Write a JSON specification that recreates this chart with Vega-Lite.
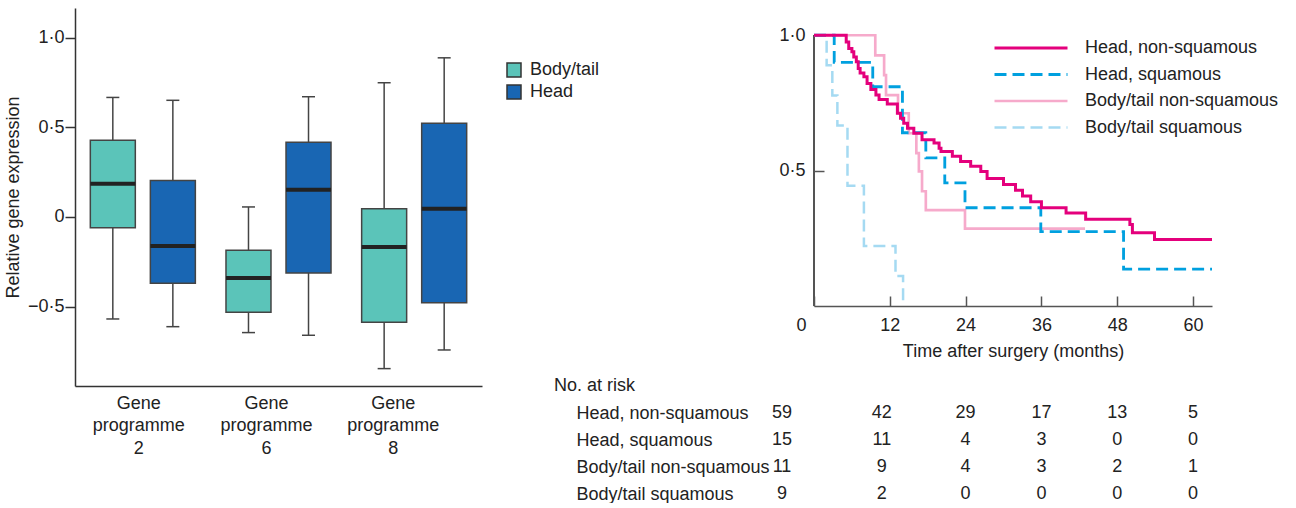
{
  "$schema": "https://vega.github.io/schema/vega-lite/v6.json",
  "padding": {"left": 4, "top": 8, "right": 0, "bottom": 0},
  "spacing": 72,
  "config": {
    "font": "Liberation Sans",
    "view": {"stroke": null},
    "axis": {"grid": false, "labelFontSize": 18, "titleFontSize": 18, "titleFontWeight": "normal", "labelColor": "#222", "titleColor": "#222", "labelFont": "Liberation Sans", "titleFont": "Liberation Sans"},
    "legend": {"labelFontSize": 18, "labelColor": "#222", "labelFont": "Liberation Sans", "labelLimit": 400, "padding": 0},
    "title": {"fontSize": 18, "fontWeight": "normal", "color": "#222", "font": "Liberation Sans"}
  },
  "datasets": {
    "boxes": [
      {"prog": "Gene programme 2", "region": "Body/tail", "lo": -0.569, "q1": -0.06, "med": 0.186, "q3": 0.428, "hi": 0.667},
      {"prog": "Gene programme 2", "region": "Head", "lo": -0.612, "q1": -0.37, "med": -0.162, "q3": 0.203, "hi": 0.651},
      {"prog": "Gene programme 6", "region": "Body/tail", "lo": -0.645, "q1": -0.532, "med": -0.34, "q3": -0.186, "hi": 0.056},
      {"prog": "Gene programme 6", "region": "Head", "lo": -0.66, "q1": -0.312, "med": 0.152, "q3": 0.417, "hi": 0.671},
      {"prog": "Gene programme 8", "region": "Body/tail", "lo": -0.846, "q1": -0.587, "med": -0.167, "q3": 0.046, "hi": 0.749},
      {"prog": "Gene programme 8", "region": "Head", "lo": -0.742, "q1": -0.478, "med": 0.046, "q3": 0.523, "hi": 0.888}
    ],
    "km": [
      {"series": "Body/tail squamous", "t": 0, "s": 1},
      {"series": "Body/tail squamous", "t": 2.0, "s": 0.889},
      {"series": "Body/tail squamous", "t": 2.9, "s": 0.778},
      {"series": "Body/tail squamous", "t": 3.7, "s": 0.667},
      {"series": "Body/tail squamous", "t": 5.3, "s": 0.444},
      {"series": "Body/tail squamous", "t": 7.9, "s": 0.222},
      {"series": "Body/tail squamous", "t": 12.9, "s": 0.111},
      {"series": "Body/tail squamous", "t": 14.1, "s": 0},
      {"series": "Body/tail non-squamous", "t": 0, "s": 1},
      {"series": "Body/tail non-squamous", "t": 9.7, "s": 0.926},
      {"series": "Body/tail non-squamous", "t": 11.1, "s": 0.853},
      {"series": "Body/tail non-squamous", "t": 11.4, "s": 0.779},
      {"series": "Body/tail non-squamous", "t": 13.3, "s": 0.712},
      {"series": "Body/tail non-squamous", "t": 15.0, "s": 0.638},
      {"series": "Body/tail non-squamous", "t": 16.2, "s": 0.565},
      {"series": "Body/tail non-squamous", "t": 16.6, "s": 0.497},
      {"series": "Body/tail non-squamous", "t": 17.1, "s": 0.424},
      {"series": "Body/tail non-squamous", "t": 17.7, "s": 0.354},
      {"series": "Body/tail non-squamous", "t": 23.9, "s": 0.286},
      {"series": "Body/tail non-squamous", "t": 42.9, "s": 0.286},
      {"series": "Head, squamous", "t": 0, "s": 1},
      {"series": "Head, squamous", "t": 3.2, "s": 0.9},
      {"series": "Head, squamous", "t": 9.3, "s": 0.81},
      {"series": "Head, squamous", "t": 14.0, "s": 0.64},
      {"series": "Head, squamous", "t": 17.7, "s": 0.547},
      {"series": "Head, squamous", "t": 20.7, "s": 0.455},
      {"series": "Head, squamous", "t": 23.9, "s": 0.363},
      {"series": "Head, squamous", "t": 35.9, "s": 0.275},
      {"series": "Head, squamous", "t": 49.0, "s": 0.136},
      {"series": "Head, squamous", "t": 63, "s": 0.136},
      {"series": "Head, non-squamous", "t": 0, "s": 1},
      {"series": "Head, non-squamous", "t": 5.1, "s": 0.975},
      {"series": "Head, non-squamous", "t": 5.5, "s": 0.951},
      {"series": "Head, non-squamous", "t": 6.0, "s": 0.939},
      {"series": "Head, non-squamous", "t": 6.3, "s": 0.92},
      {"series": "Head, non-squamous", "t": 6.7, "s": 0.902},
      {"series": "Head, non-squamous", "t": 7.0, "s": 0.877},
      {"series": "Head, non-squamous", "t": 7.3, "s": 0.861},
      {"series": "Head, non-squamous", "t": 7.9, "s": 0.847},
      {"series": "Head, non-squamous", "t": 8.4, "s": 0.822},
      {"series": "Head, non-squamous", "t": 9.0, "s": 0.8},
      {"series": "Head, non-squamous", "t": 9.8, "s": 0.779},
      {"series": "Head, non-squamous", "t": 10.3, "s": 0.763},
      {"series": "Head, non-squamous", "t": 11.6, "s": 0.746},
      {"series": "Head, non-squamous", "t": 13.2, "s": 0.712},
      {"series": "Head, non-squamous", "t": 13.7, "s": 0.694},
      {"series": "Head, non-squamous", "t": 14.2, "s": 0.675},
      {"series": "Head, non-squamous", "t": 14.8, "s": 0.657},
      {"series": "Head, non-squamous", "t": 15.8, "s": 0.638},
      {"series": "Head, non-squamous", "t": 17.1, "s": 0.614},
      {"series": "Head, non-squamous", "t": 19.0, "s": 0.602},
      {"series": "Head, non-squamous", "t": 19.8, "s": 0.583},
      {"series": "Head, non-squamous", "t": 20.1, "s": 0.571},
      {"series": "Head, non-squamous", "t": 21.9, "s": 0.553},
      {"series": "Head, non-squamous", "t": 23.2, "s": 0.534},
      {"series": "Head, non-squamous", "t": 24.8, "s": 0.516},
      {"series": "Head, non-squamous", "t": 26.4, "s": 0.497},
      {"series": "Head, non-squamous", "t": 27.4, "s": 0.471},
      {"series": "Head, non-squamous", "t": 30.0, "s": 0.449},
      {"series": "Head, non-squamous", "t": 31.9, "s": 0.428},
      {"series": "Head, non-squamous", "t": 33.0, "s": 0.406},
      {"series": "Head, non-squamous", "t": 34.3, "s": 0.385},
      {"series": "Head, non-squamous", "t": 36.0, "s": 0.363},
      {"series": "Head, non-squamous", "t": 39.9, "s": 0.344},
      {"series": "Head, non-squamous", "t": 43.0, "s": 0.32},
      {"series": "Head, non-squamous", "t": 50.0, "s": 0.301},
      {"series": "Head, non-squamous", "t": 50.4, "s": 0.271},
      {"series": "Head, non-squamous", "t": 53.9, "s": 0.246},
      {"series": "Head, non-squamous", "t": 63, "s": 0.246}
    ],
    "risk": [
      {"series": "Head, non-squamous", "t": 0, "n": 59},
      {"series": "Head, non-squamous", "t": 12, "n": 42},
      {"series": "Head, non-squamous", "t": 24, "n": 29},
      {"series": "Head, non-squamous", "t": 36, "n": 17},
      {"series": "Head, non-squamous", "t": 48, "n": 13},
      {"series": "Head, non-squamous", "t": 60, "n": 5},
      {"series": "Head, squamous", "t": 0, "n": 15},
      {"series": "Head, squamous", "t": 12, "n": 11},
      {"series": "Head, squamous", "t": 24, "n": 4},
      {"series": "Head, squamous", "t": 36, "n": 3},
      {"series": "Head, squamous", "t": 48, "n": 0},
      {"series": "Head, squamous", "t": 60, "n": 0},
      {"series": "Body/tail non-squamous", "t": 0, "n": 11},
      {"series": "Body/tail non-squamous", "t": 12, "n": 9},
      {"series": "Body/tail non-squamous", "t": 24, "n": 4},
      {"series": "Body/tail non-squamous", "t": 36, "n": 3},
      {"series": "Body/tail non-squamous", "t": 48, "n": 2},
      {"series": "Body/tail non-squamous", "t": 60, "n": 1},
      {"series": "Body/tail squamous", "t": 0, "n": 9},
      {"series": "Body/tail squamous", "t": 12, "n": 2},
      {"series": "Body/tail squamous", "t": 24, "n": 0},
      {"series": "Body/tail squamous", "t": 36, "n": 0},
      {"series": "Body/tail squamous", "t": 48, "n": 0},
      {"series": "Body/tail squamous", "t": 60, "n": 0}
    ]
  },
  "hconcat": [
    {
      "width": 407,
      "height": 378,
      "data": {"name": "boxes"},
      "encoding": {
        "x": {
          "field": "prog", "type": "nominal",
          "scale": {"domain": ["Gene programme 2", "Gene programme 6", "Gene programme 8"], "paddingInner": 0, "paddingOuter": 0},
          "axis": {
            "title": null, "ticks": false, "domainColor": "#333", "domainWidth": 1.5, "labelAngle": 0,
            "labelExpr": "split(datum.label, ' ')", "labelLineHeight": 22.5, "labelPadding": 8, "labelBaseline": "top",
            "labelOffset": {"condition": [{"test": "datum.value == 'Gene programme 8'", "value": -21}, {"test": "datum.value == 'Gene programme 6'", "value": -12}], "value": -4}
          }
        },
        "xOffset": {"field": "region", "type": "nominal", "scale": {"domain": ["Body/tail", "Head"], "paddingInner": 0, "paddingOuter": 0.13}}
      },
      "layer": [
        {
          "mark": {"type": "rule", "color": "#444", "strokeWidth": 1.5},
          "encoding": {
            "y": {
              "field": "lo", "type": "quantitative",
              "scale": {"domain": [-0.943, 1.166], "nice": false, "zero": false},
              "axis": {
                "values": [-0.5, 0, 0.5, 1],
                "labelExpr": "datum.value == 0 ? '0' : replace(replace(format(datum.value, '.1f'), '.', '·'), '-', '−')",
                "title": "Relative gene expression", "titlePadding": 5,
                "tickSize": 10, "tickColor": "#333", "tickWidth": 1.5,
                "domainColor": "#333", "domainWidth": 1.5, "labelPadding": 1
              }
            },
            "y2": {"field": "hi"}
          }
        },
        {
          "mark": {"type": "tick", "color": "#444", "size": 13, "thickness": 1.5, "opacity": 1},
          "encoding": {"y": {"field": "lo", "type": "quantitative"}}
        },
        {
          "mark": {"type": "tick", "color": "#444", "size": 13, "thickness": 1.5, "opacity": 1},
          "encoding": {"y": {"field": "hi", "type": "quantitative"}}
        },
        {
          "mark": {"type": "bar", "size": 45, "stroke": "#444", "strokeWidth": 1.5, "opacity": 1},
          "encoding": {
            "y": {"field": "q1", "type": "quantitative"},
            "y2": {"field": "q3"},
            "fill": {
              "field": "region", "type": "nominal",
              "scale": {"domain": ["Body/tail", "Head"], "range": ["#5BC4B9", "#1966B3"]},
              "legend": {
                "orient": "none", "legendX": 430, "legendY": 53, "title": null,
                "symbolType": "square", "symbolSize": 196, "symbolStrokeColor": "#333", "symbolStrokeWidth": 1.5,
                "symbolOpacity": 1, "labelOffset": 7, "rowPadding": 2
              }
            }
          }
        },
        {
          "mark": {"type": "tick", "color": "#222", "size": 45, "thickness": 4, "opacity": 1},
          "encoding": {"y": {"field": "med", "type": "quantitative"}}
        }
      ]
    },
    {
      "spacing": 17,
      "vconcat": [
        {
          "width": 398,
          "height": 298,
          "data": {"name": "km"},
          "encoding": {
            "x": {
              "field": "t", "type": "quantitative",
              "scale": {"domain": [0, 63], "nice": false},
              "axis": {
                "values": [0, 12, 24, 36, 48, 60], "title": "Time after surgery (months)", "titlePadding": 8,
                "tickSize": -10, "tickColor": "#555", "tickWidth": 1.5, "domainColor": "#555", "domainWidth": 1.5,
                "labelPadding": 20, "labelFlush": false,
                "labelOffset": {"condition": {"test": "datum.value == 0", "value": -13}, "value": 0}
              }
            },
            "y": {
              "field": "s", "type": "quantitative",
              "scale": {"domain": [0, 1.1008], "nice": false},
              "axis": {
                "values": [0.5, 1], "title": null, "domain": false,
                "labelExpr": "replace(format(datum.value, '.1f'), '.', '·')",
                "tickSize": -10, "tickColor": "#555", "tickWidth": 1.5,
                "labelPadding": 19
              }
            }
          },
          "layer": [
            {
              "mark": {"type": "rule", "color": "#555", "strokeWidth": 1.5},
              "encoding": {"x": {"datum": 0}, "y": {"datum": 0}, "y2": {"datum": 1}}
            },
            {
              "mark": {"type": "line", "interpolate": "step-after"},
              "encoding": {
                "stroke": {
                  "field": "series", "type": "nominal",
                  "scale": {"domain": ["Head, non-squamous", "Head, squamous", "Body/tail non-squamous", "Body/tail squamous"], "range": ["#E4007C", "#00A0DF", "#F6AACB", "#A5DAF2"]},
                  "legend": {
                    "orient": "none", "legendX": 918, "legendY": 31, "title": null,
                    "symbolType": "stroke", "symbolSize": 5329, "clipHeight": 18,
                    "labelOffset": 16, "rowPadding": 8.5
                  }
                },
                "strokeDash": {
                  "field": "series", "type": "nominal",
                  "scale": {"domain": ["Head, non-squamous", "Head, squamous", "Body/tail non-squamous", "Body/tail squamous"], "range": [[1, 0], [12, 6], [1, 0], [12, 6]]},
                  "legend": {
                    "orient": "none", "legendX": 918, "legendY": 31, "title": null,
                    "symbolType": "stroke", "symbolSize": 5329, "clipHeight": 18,
                    "labelOffset": 16, "rowPadding": 8.5
                  }
                },
                "strokeWidth": {
                  "field": "series", "type": "ordinal",
                  "scale": {"domain": ["Head, non-squamous", "Head, squamous", "Body/tail non-squamous", "Body/tail squamous"], "range": [3, 2.5, 2.2, 2.5]},
                  "legend": null
                }
              }
            }
          ]
        },
        {
          "width": 398,
          "height": 81,
          "title": {"text": "No. at risk", "anchor": "start", "frame": "group", "dx": -260, "offset": 9},
          "data": {"name": "risk"},
          "encoding": {
            "x": {"field": "t", "type": "quantitative", "scale": {"domain": [0, 63], "nice": false}, "axis": null},
            "y": {
              "field": "series", "type": "nominal",
              "scale": {"type": "point", "padding": 0, "domain": ["Head, non-squamous", "Head, squamous", "Body/tail non-squamous", "Body/tail squamous"]},
              "axis": {"title": null, "domain": false, "ticks": false, "labelAlign": "left", "labelPadding": 238, "labelLimit": 400}
            },
            "text": {"field": "n", "type": "quantitative", "format": "d"}
          },
          "layer": [
            {"transform": [{"filter": "datum.t == 0"}], "mark": {"type": "text", "fontSize": 18, "color": "#222", "dx": -32}},
            {"transform": [{"filter": "datum.t == 12"}], "mark": {"type": "text", "fontSize": 18, "color": "#222", "dx": -8}},
            {"transform": [{"filter": "datum.t > 12"}], "mark": {"type": "text", "fontSize": 18, "color": "#222"}}
          ]
        }
      ]
    }
  ]
}
